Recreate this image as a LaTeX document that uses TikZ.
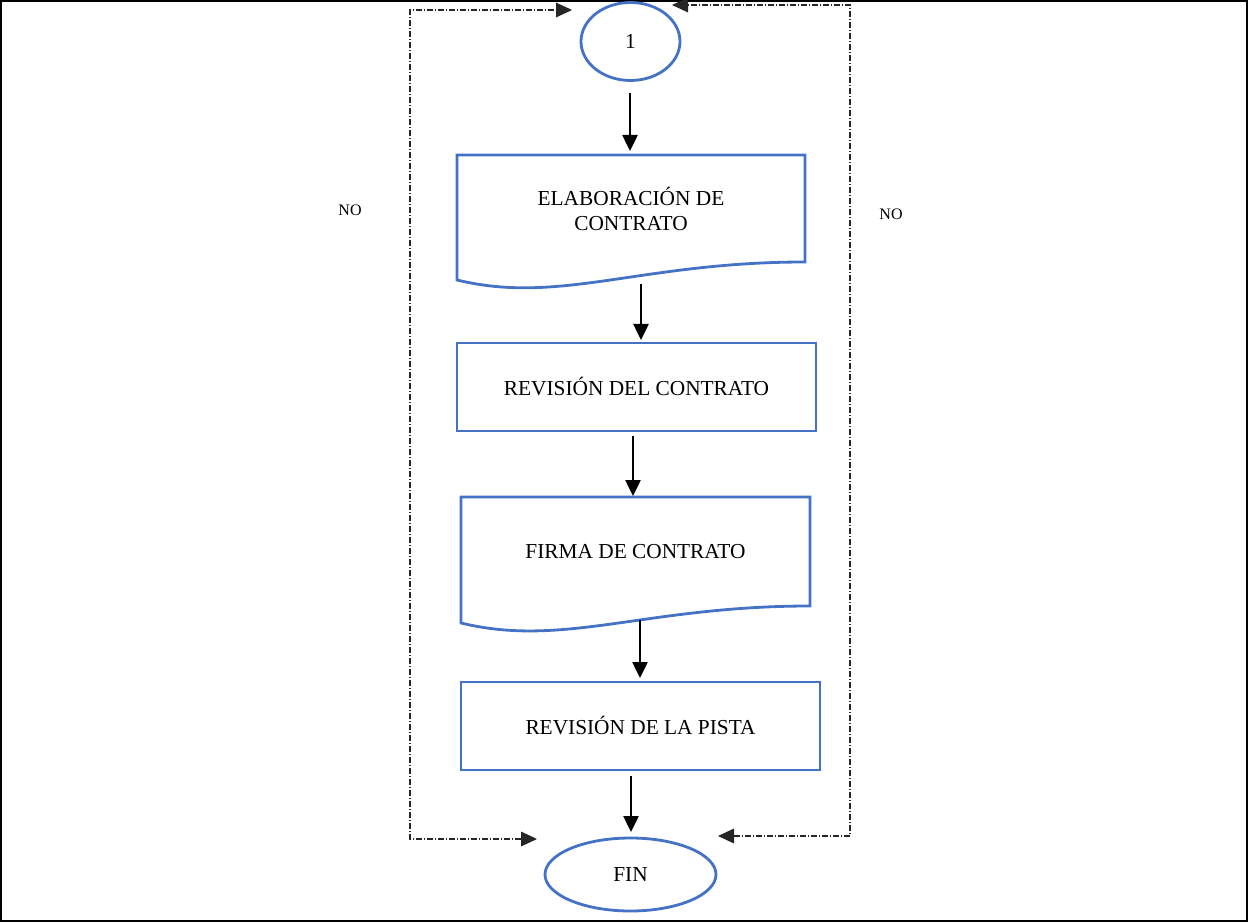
\documentclass[tikz,border=0pt]{standalone}
\usepackage{fontspec}
\setmainfont{Liberation Serif}
\usetikzlibrary{shapes.geometric,arrows.meta,calc}
\definecolor{flowblue}{HTML}{4472C4}
\begin{document}
\begin{tikzpicture}[x=0.75pt,y=-0.75pt,
  every node/.style={inner sep=0pt,outer sep=0pt,font=\fontsize{16}{18.75}\selectfont,align=center},
  procbox/.style={draw=flowblue,line width=2.1pt,rectangle},
  docbox/.style={rectangle},
  termnode/.style={draw=flowblue,line width=2.1pt,ellipse},
  arr/.style={line width=1pt,-{Triangle[length=12pt,width=11.5pt]}},
  loopline/.style={line width=0.8pt,draw=black!85,dash pattern=on 4.5pt off 1.5pt on 0.75pt off 1.5pt,
    {Triangle[length=12pt,width=11pt]}-{Triangle[length=12pt,width=11pt]}},
  notext/.style={font=\fontsize{12}{14}\selectfont}]
\useasboundingbox (0,0) rectangle (1249,923);
% outer frame
\draw[line width=1.8pt] (1,1) rectangle (1247,921);

% nodes
\node[termnode,minimum width=74.25pt,minimum height=58.5pt] (c1) at (630.5,41.5) {1};
\node[docbox,minimum width=261pt,minimum height=80.25pt] (doc1) at (631,208.5) {ELABORACIÓN DE\\CONTRATO};
\node[procbox,minimum width=269.25pt,minimum height=66pt] (box2) at (636.5,387) {REVISIÓN DEL CONTRATO};
\node[docbox,minimum width=261.75pt,minimum height=81.75pt] (doc3) at (635.5,551.5) {FIRMA DE CONTRATO};
\node[procbox,minimum width=269.25pt,minimum height=66pt] (box4) at (640.5,726) {REVISIÓN DE LA PISTA};
\node[termnode,minimum width=128.25pt,minimum height=54.75pt] (fin) at (630.5,874.5) {FIN};

% document outlines with wavy lower edge
\foreach \d/\drop in {doc1/18,doc3/17}{
  \draw[draw=flowblue,line width=2.1pt,line join=miter]
    (\d.south east) -- (\d.north east) -- (\d.north west) -- ($(\d.south west)+(0,\drop)$)
    .. controls ($(\d.south west)+(103,\drop+25)$) and ($(\d.south east)+(-165,0)$) .. (\d.south east) -- cycle;
}

% main flow
\draw[arr] ($(c1.south)+(-0.5,13)$) -- ($(doc1.north)+(-1,-4)$);
\draw[arr] ($(doc1.south)+(10,22)$) -- ($(box2.north)+(4.5,-3)$);
\draw[arr] ($(box2.south)+(-3.5,5)$) -- ($(doc3.north)+(-2.5,-1)$);
\draw[arr] ($(doc3.south)+(4.5,14)$) -- ($(box4.north)+(-0.5,-4)$);
\draw[arr] ($(box4.south)+(-9.5,6)$) -- ($(fin.north)+(0.5,-6)$);

% return loops
\coordinate (ltop) at (572,10);
\coordinate (lbot) at (537,839);
\coordinate (rtop) at (672,5);
\coordinate (rbot) at (718,836);
\draw[loopline] (lbot) -- (410,839) -- (410,10) -- (ltop);
\draw[loopline] (rbot) -- (850,836) -- (850,5) -- (rtop);

\node[notext] (noleft) at (350,210) {NO};
\node[notext] (noright) at (891,214) {NO};
\end{tikzpicture}
\end{document}
